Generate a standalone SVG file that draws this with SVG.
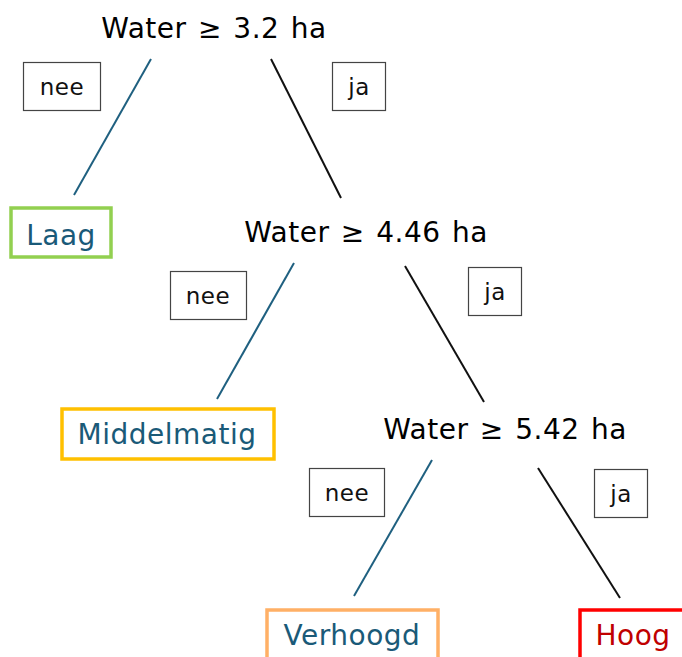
<svg xmlns="http://www.w3.org/2000/svg" width="682" height="657" viewBox="0 0 682 657">
<style>
.q{font-family:"DejaVu Sans",Verdana,sans-serif;font-size:28px;letter-spacing:0.5px;word-spacing:2px;fill:#000;text-anchor:middle}
.leaf{font-family:"DejaVu Sans",Verdana,sans-serif;font-size:28px;letter-spacing:0.5px;fill:#1a5a78;text-anchor:middle}
.lbl{font-family:"DejaVu Sans",Verdana,sans-serif;font-size:23px;letter-spacing:0.5px;fill:#111;text-anchor:middle}
.lb{fill:#fff;stroke:#444;stroke-width:1.2}
.no{stroke:#1f6080;stroke-width:2;fill:none}
.yes{stroke:#111;stroke-width:2;fill:none}
.box{fill:#fff;stroke-width:3.5}
</style>
<rect width="682" height="657" fill="#fff"/>
<g id="connectors">
<line class="no" x1="151" y1="59" x2="74" y2="195"/>
<line class="yes" x1="271" y1="59" x2="341" y2="198"/>
<line class="no" x1="294" y1="263" x2="217" y2="399"/>
<line class="yes" x1="405" y1="266" x2="484" y2="402"/>
<line class="no" x1="432" y1="460" x2="354" y2="596"/>
<line class="yes" x1="538" y1="468" x2="620" y2="598"/>
<g id="lbl-nee1"><rect class="lb" x="23.5" y="62.5" width="77" height="48"/><text class="lbl" x="62" y="95">nee</text></g>
<g id="lbl-ja1"><rect class="lb" x="332.5" y="62.5" width="53" height="48"/><text class="lbl" x="359" y="95">ja</text></g>
<g id="lbl-nee2"><rect class="lb" x="170.5" y="271.5" width="76" height="48"/><text class="lbl" x="208" y="304">nee</text></g>
<g id="lbl-ja2"><rect class="lb" x="468.5" y="267.5" width="53" height="48"/><text class="lbl" x="495" y="300">ja</text></g>
<g id="lbl-nee3"><rect class="lb" x="309.5" y="468.5" width="75" height="48"/><text class="lbl" x="347" y="501">nee</text></g>
<g id="lbl-ja3"><rect class="lb" x="594.5" y="469.5" width="53" height="48"/><text class="lbl" x="621" y="502">ja</text></g>
</g>
<g id="node-root"><text class="q" x="214" y="38">Water ≥ 3.2 ha</text></g>
<g id="node-q2"><text class="q" x="366" y="242">Water ≥ 4.46 ha</text></g>
<g id="node-q3"><text class="q" x="505" y="439">Water ≥ 5.42 ha</text></g>
<g id="node-laag"><rect class="box" x="11" y="208" width="100" height="49" stroke="#92d050"/><text class="leaf" x="61" y="245">Laag</text></g>
<g id="node-middelmatig"><rect class="box" x="62" y="409" width="212" height="50" stroke="#ffc000"/><text class="leaf" x="167" y="444">Middelmatig</text></g>
<g id="node-verhoogd"><rect class="box" x="267" y="610" width="171" height="52" stroke="#ffb066"/><text class="leaf" x="352" y="645">Verhoogd</text></g>
<g id="node-hoog"><rect class="box" x="580" y="610" width="110" height="52" stroke="#ff0000" stroke-width="4"/><text class="leaf" x="633" y="645" style="fill:#c00000">Hoog</text></g>
</svg>
